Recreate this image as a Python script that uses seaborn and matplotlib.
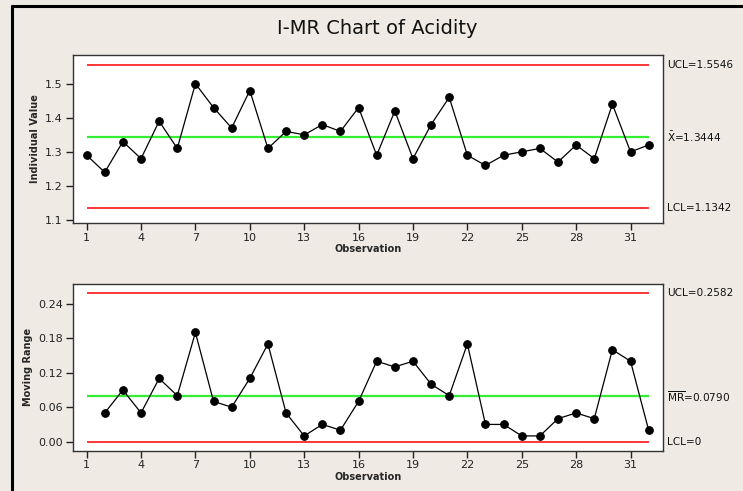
import numpy as np
import pandas as pd
import seaborn as sns
import matplotlib.pyplot as plt
from matplotlib.lines import Line2D

sns.set_style('ticks')
plt.rcParams['font.family'] = ['DejaVu Sans']
plt.rcParams['mathtext.fontset'] = 'dejavusans'

# 資料
obs = list(range(1, 33))
acidity = [1.29, 1.24, 1.33, 1.28, 1.39, 1.31, 1.50, 1.43, 1.37, 1.48,
           1.31, 1.36, 1.35, 1.38, 1.36, 1.43, 1.29, 1.42, 1.28, 1.38,
           1.46, 1.29, 1.26, 1.29, 1.30, 1.31, 1.27, 1.32, 1.28, 1.44,
           1.30, 1.32]
mr_obs = list(range(2, 33))
moving_range = [0.05, 0.09, 0.05, 0.11, 0.08, 0.19, 0.07, 0.06, 0.11, 0.17,
                0.05, 0.01, 0.03, 0.02, 0.07, 0.14, 0.13, 0.14, 0.10, 0.08,
                0.17, 0.03, 0.03, 0.01, 0.01, 0.04, 0.05, 0.04, 0.16, 0.14,
                0.02]

i_ucl, i_center, i_lcl = 1.5546, 1.3444, 1.1342
mr_ucl, mr_center, mr_lcl = 0.2582, 0.0790, 0.0

i_ticks = [1.1, 1.2, 1.3, 1.4, 1.5]
mr_ticks = [0.00, 0.06, 0.12, 0.18, 0.24]
x_ticks = list(range(1, 33, 3))

df_i = pd.DataFrame({'obs': obs, 'value': acidity})
df_mr = pd.DataFrame({'obs': mr_obs, 'value': moving_range})

bg = '#EFEBE4'
fig = plt.figure(figsize=(7.43, 4.91), dpi=100, facecolor=bg)
ax1 = fig.add_axes([0.0978, 0.5458, 0.794, 0.342])
ax2 = fig.add_axes([0.0978, 0.0821, 0.794, 0.3395])


def draw_panel(ax, df, ucl, center, lcl, labels, yticks, ylim, ylabel, fmt):
    ax.set_facecolor('white')
    ax.hlines([ucl, lcl], obs[0], obs[-1], colors='#FF0000', lw=1.1, zorder=1)
    ax.hlines(center, obs[0], obs[-1], colors='#33EE33', lw=1.6, zorder=1)
    sns.lineplot(data=df, x='obs', y='value', ax=ax, color='black', lw=0.9,
                 marker='o', markersize=5.5, markeredgecolor='black',
                 markerfacecolor='black', zorder=3)
    ax.set_xlim(0.23, 32.77)
    ax.set_ylim(*ylim)
    ax.set_xticks(x_ticks)
    ax.set_yticks(yticks)
    ax.set_yticklabels([fmt.format(t) for t in yticks])
    ax.tick_params(direction='out', length=5, width=1, colors='#222222',
                   labelsize=8, pad=2)
    ax.set_xlabel('Observation', fontsize=7, fontweight='bold', labelpad=1)
    ax.set_ylabel(ylabel, fontsize=7, fontweight='bold', labelpad=4)
    for sp in ax.spines.values():
        sp.set_visible(True)
        sp.set_color('#333333')
        sp.set_linewidth(1)
    for yv, txt in zip([ucl, center, lcl], labels):
        ax.annotate(txt, xy=(1.0, yv), xycoords=('axes fraction', 'data'),
                    xytext=(3.5, 0), textcoords='offset points',
                    va='center', ha='left', fontsize=7.6, color='#111111')


draw_panel(ax1, df_i, i_ucl, i_center, i_lcl,
           ['UCL=1.5546', r'$\bar{\mathrm{X}}$=1.3444', 'LCL=1.1342'],
           i_ticks, (1.091, 1.584), 'Individual Value', '{:.1f}')
draw_panel(ax2, df_mr, mr_ucl, mr_center, mr_lcl,
           ['UCL=0.2582', r'$\overline{\mathrm{MR}}$=0.0790', 'LCL=0'],
           mr_ticks, (-0.0157, 0.2743), 'Moving Range', '{:.2f}')

fig.text(377 / 743, 1 - 28 / 491, 'I-MR Chart of Acidity', ha='center',
         va='center', fontsize=14, color='#111111')

# 外框
fig.add_artist(Line2D([11.5 / 743, 1.0], [1 - 5.5 / 491, 1 - 5.5 / 491],
                      transform=fig.transFigure, color='black', lw=2.2))
fig.add_artist(Line2D([11.5 / 743, 11.5 / 743], [0.0, 1 - 5.5 / 491],
                      transform=fig.transFigure, color='black', lw=2.2))

plt.savefig('out.png', dpi=100, facecolor=bg)
